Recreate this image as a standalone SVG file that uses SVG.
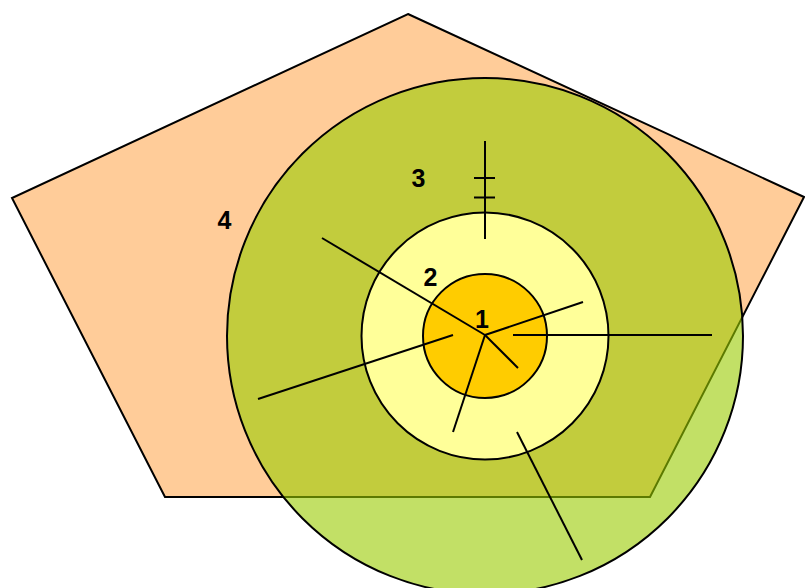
<svg xmlns="http://www.w3.org/2000/svg" width="805" height="588" viewBox="0 0 805 588">
<style>
.ol{stroke:#000;stroke-width:2}
.ln{stroke:#000;stroke-width:2;fill:none}
.lbl{font-family:"Liberation Sans",Arial,sans-serif;font-weight:bold;font-size:25px;fill:#000;text-anchor:middle}
</style>
<g id="pentagon">
<polygon class="ol" points="408,14 804,197 650,497 165,497 12,198" fill="#FFCC99"/>
</g>
<g id="ring3">
<circle cx="485" cy="336" r="258" fill="#99CC00" fill-opacity="0.6"/>
<circle cx="485" cy="336" r="258" fill="none" class="ol"/>
</g>
<g id="ring2">
<circle class="ol" cx="485" cy="336" r="123.5" fill="#FFFF99"/>
</g>
<g id="ring1">
<circle class="ol" cx="485" cy="336" r="62" fill="#FFCC00"/>
</g>
<g id="connectors">
<line class="ln" x1="485" y1="141" x2="485" y2="239"/>
<line class="ln" x1="474" y1="178" x2="495" y2="178"/>
<line class="ln" x1="474" y1="197.5" x2="495" y2="197.5"/>
<line class="ln" x1="322" y1="238" x2="485" y2="335"/>
<line class="ln" x1="485" y1="335" x2="583" y2="302"/>
<line class="ln" x1="485" y1="335" x2="453" y2="432"/>
<line class="ln" x1="485" y1="335" x2="518" y2="368"/>
<line class="ln" x1="258" y1="399" x2="453" y2="335"/>
<line class="ln" x1="513" y1="335" x2="712" y2="335"/>
<line class="ln" x1="517" y1="432" x2="582" y2="560"/>
</g>
<g id="labels">
<text class="lbl" x="482" y="328">1</text>
<text class="lbl" x="430.5" y="286">2</text>
<text class="lbl" x="418.5" y="187">3</text>
<text class="lbl" x="224.5" y="229">4</text>
</g>
</svg>
